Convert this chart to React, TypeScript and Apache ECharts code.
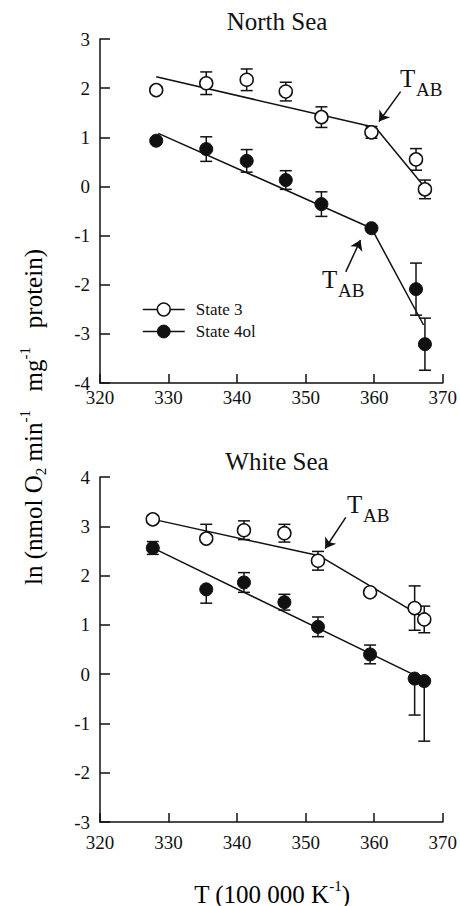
import React, { useEffect, useRef } from 'react';
import * as echarts from 'echarts';

// ---------- data ----------
const nsT = [328.2, 335.5, 341.4, 347.1, 352.3, 359.6, 366.1, 367.4];
const ns3 = [1.96, 2.1, 2.17, 1.93, 1.41, 1.1, 0.55, -0.06];
const ns3Err = [0, 0.23, 0.22, 0.19, 0.21, 0.12, 0.22, 0.19];
const ns4 = [0.93, 0.76, 0.52, 0.13, -0.36, -0.85, -2.09, -3.21];
const ns4Err = [0, 0.25, 0.23, 0.19, 0.25, 0, 0.53, 0.53];
const ns3FitT = [328.2, 360.2, 367.4];
const ns3Fit = [2.23, 1.2, -0.02];
const ns4FitT = [328.5, 359.6, 367.2];
const ns4Fit = [1.08, -0.85, -2.82];

const wsT = [327.7, 335.5, 341.0, 346.9, 351.8, 359.4, 365.9, 367.3];
const ws3 = [3.14, 2.75, 2.92, 2.86, 2.3, 1.66, 1.34, 1.11];
const ws3ErrUp = [0, 0.29, 0.19, 0.18, 0.19, 0, 0.45, 0.27];
const ws3ErrDown = [0, 0, 0.19, 0.18, 0.19, 0, 0.45, 0.27];
const ws4 = [2.56, 1.72, 1.86, 1.46, 0.96, 0.4, -0.09, -0.14];
const ws4ErrUp = [0.13, 0, 0.2, 0.16, 0.2, 0.19, 0, 0];
const ws4ErrDown = [0.13, 0.28, 0.2, 0.16, 0.2, 0.19, 0.74, 1.22];
const ws3FitT = [327.8, 352.0, 367.4];
const ws3Fit = [3.14, 2.4, 1.13];
const ws4FitT = [328.3, 365.6];
const ws4Fit = [2.52, 0.0];

// arrows (data coords): [tailT, tailV, tipT, tipV]
const arrowNS3 = [363.85, 1.93, 360.7, 1.32];
const arrowNS4 = [355.85, -1.74, 358.0, -1.09];
const arrowWS3 = [355.85, 3.18, 352.85, 2.55];

const xMin = 320, xMax = 370, xStep = 10;
const nsYMin = -4, nsYMax = 3;
const wsYMin = -3, wsYMax = 4;

const titles = ['North Sea', 'White Sea'];
const legendNames = ['State 3', 'State 4ol'];

const FONT = 'Liberation Serif';
const INK = '#111';

function errorSeries(idx: number, T: number[], v: number[], up: number[], down: number[]) {
  return {
    type: 'custom',
    xAxisIndex: idx,
    yAxisIndex: idx,
    z: 1,
    silent: true,
    data: T.map((t, i) => [t, v[i], v[i] - down[i], v[i] + up[i]]),
    encode: { x: 0, y: [1, 2, 3] },
    renderItem: (params: any, api: any) => {
      const x = api.value(0), y = api.value(1), lo = api.value(2), hi = api.value(3);
      const c = api.coord([x, y]);
      const cl = api.coord([x, lo]);
      const ch = api.coord([x, hi]);
      const w = 6;
      const st = { stroke: INK, lineWidth: 1.5 };
      const children: any[] = [];
      if (hi > y) {
        children.push({ type: 'line', shape: { x1: c[0], y1: c[1], x2: ch[0], y2: ch[1] }, style: st });
        children.push({ type: 'line', shape: { x1: ch[0] - w, y1: ch[1], x2: ch[0] + w, y2: ch[1] }, style: st });
      }
      if (lo < y) {
        children.push({ type: 'line', shape: { x1: c[0], y1: c[1], x2: cl[0], y2: cl[1] }, style: st });
        children.push({ type: 'line', shape: { x1: cl[0] - w, y1: cl[1], x2: cl[0] + w, y2: cl[1] }, style: st });
      }
      return { type: 'group', children };
    },
  };
}

function pointSeries(idx: number, name: string, T: number[], v: number[], open: boolean) {
  return {
    type: 'scatter',
    name,
    xAxisIndex: idx,
    yAxisIndex: idx,
    z: 3,
    silent: true,
    symbol: 'circle',
    symbolSize: 13,
    itemStyle: open
      ? { color: '#fff', borderColor: INK, borderWidth: 1.5, opacity: 1 }
      : { color: INK, borderColor: INK, borderWidth: 1, opacity: 1 },
    data: T.map((t, i) => [t, v[i]]),
  };
}

function fitSeries(idx: number, name: string, T: number[], v: number[], open: boolean, arrow?: number[]) {
  const s: any = {
    type: 'line',
    name,
    xAxisIndex: idx,
    yAxisIndex: idx,
    z: 2,
    silent: true,
    symbol: 'none',
    itemStyle: open
      ? { color: '#fff', borderColor: INK, borderWidth: 1.5 }
      : { color: INK, borderColor: INK, borderWidth: 1 },
    lineStyle: { color: INK, width: 1.5 },
    data: T.map((t, i) => [t, v[i]]),
  };
  if (arrow) {
    s.markLine = {
      silent: true,
      animation: false,
      symbol: ['none', 'arrow'],
      symbolSize: 10,
      label: { show: false },
      lineStyle: { color: INK, width: 1.5, type: 'solid' },
      itemStyle: { color: INK },
      data: [[{ coord: [arrow[0], arrow[1]] }, { coord: [arrow[2], arrow[3]] }]],
    };
  }
  return s;
}

function xAxis(idx: number, margin: number) {
  return {
    type: 'value',
    gridIndex: idx,
    min: xMin,
    max: xMax,
    interval: xStep,
    axisLine: { show: true, onZero: false, lineStyle: { color: INK, width: 1.5 } },
    axisTick: { show: true, inside: true, length: 9, lineStyle: { color: INK, width: 1.5 } },
    axisLabel: { margin, color: INK, fontFamily: FONT, fontSize: 19 },
    splitLine: { show: false },
  };
}

function yAxis(idx: number, min: number, max: number) {
  return {
    type: 'value',
    gridIndex: idx,
    min,
    max,
    interval: 1,
    axisLine: { show: true, onZero: false, lineStyle: { color: INK, width: 1.5 } },
    axisTick: { show: true, inside: true, length: 10, lineStyle: { color: INK, width: 1.5 } },
    axisLabel: { margin: 10, color: INK, fontFamily: FONT, fontSize: 19 },
    splitLine: { show: false },
  };
}

const mainRich = (size: number) => ({
  m: { fontFamily: FONT, fontSize: size, lineHeight: size + 6, color: INK },
  sup: { fontFamily: FONT, fontSize: Math.round(size * 0.6), lineHeight: Math.round(size * 0.6), verticalAlign: 'top', color: INK },
  sub: { fontFamily: FONT, fontSize: Math.round(size * 0.6), lineHeight: Math.round(size * 0.6), verticalAlign: 'bottom', color: INK },
});

export default function App() {
  const ref = useRef<HTMLDivElement>(null);
  useEffect(() => {
    if (!ref.current) return;
    const chart = echarts.init(ref.current, undefined, { renderer: 'svg' });
    const titleStyle = { fontFamily: FONT, fontSize: 25, fontWeight: 'normal', color: INK };
    const tab = (x: number, y: number) => [
      { type: 'text', x, y, style: { text: 'T', fontFamily: FONT, fontSize: 25, fill: INK, align: 'left', verticalAlign: 'middle' } },
      { type: 'text', x: x + 16, y: y + 11, style: { text: 'AB', fontFamily: FONT, fontSize: 19, fill: INK, align: 'left', verticalAlign: 'middle' } },
    ];
    chart.setOption({
      animation: false,
      backgroundColor: '#fff',
      title: [
        { text: titles[0], left: 272, top: 4, textAlign: 'center', textStyle: titleStyle },
        { text: titles[1], left: 272, top: 444, textAlign: 'center', textStyle: titleStyle },
      ],
      legend: {
        orient: 'vertical',
        left: 142,
        top: 301,
        padding: 0,
        itemWidth: 42,
        itemHeight: 16,
        itemGap: 5,
        selectedMode: false,
        textStyle: { fontFamily: FONT, fontSize: 17, color: INK, padding: [0, 0, 0, 6] },
        data: [
          { name: legendNames[0], itemStyle: { color: '#fff', borderColor: INK, borderWidth: 1.5 }, lineStyle: { color: INK, width: 1.5 } },
          { name: legendNames[1], itemStyle: { color: INK, borderColor: INK, borderWidth: 1 }, lineStyle: { color: INK, width: 1.5 } },
        ],
      },
      grid: [
        { left: 100, top: 39, width: 344, height: 344 },
        { left: 100, top: 477, width: 344, height: 345 },
      ],
      xAxis: [xAxis(0, 5), xAxis(1, 11)],
      yAxis: [yAxis(0, nsYMin, nsYMax), yAxis(1, wsYMin, wsYMax)],
      graphic: [
        {
          type: 'text',
          x: 33,
          y: 417,
          rotation: Math.PI / 2,
          style: {
            text: '{m|ln (nmol O}{sub|2}{m| min}{sup|-1}{m|   mg}{sup|-1}{m|   protein)}',
            rich: mainRich(25),
            align: 'center',
            verticalAlign: 'middle',
          },
        },
        {
          type: 'text',
          x: 272,
          y: 894,
          style: {
            text: '{m|T (100 000 K}{sup|-1}{m|)}',
            rich: mainRich(25),
            align: 'center',
            verticalAlign: 'middle',
          },
        },
        ...tab(400, 78),
        ...tab(322, 279),
        ...tab(347, 504),
      ],
      series: [
        errorSeries(0, nsT, ns3, ns3Err, ns3Err),
        errorSeries(0, nsT, ns4, ns4Err, ns4Err),
        fitSeries(0, legendNames[0], ns3FitT, ns3Fit, true, arrowNS3),
        fitSeries(0, legendNames[1], ns4FitT, ns4Fit, false, arrowNS4),
        pointSeries(0, 'ns3pts', nsT, ns3, true),
        pointSeries(0, 'ns4pts', nsT, ns4, false),
        errorSeries(1, wsT, ws3, ws3ErrUp, ws3ErrDown),
        errorSeries(1, wsT, ws4, ws4ErrUp, ws4ErrDown),
        fitSeries(1, legendNames[0], ws3FitT, ws3Fit, true, arrowWS3),
        fitSeries(1, legendNames[1], ws4FitT, ws4Fit, false),
        pointSeries(1, 'ws3pts', wsT, ws3, true),
        pointSeries(1, 'ws4pts', wsT, ws4, false),
      ],
    });
    return () => chart.dispose();
  }, []);
  return <div ref={ref} style={{ position: 'fixed', left: 0, top: 0, width: 460, height: 906 }} />;
}
